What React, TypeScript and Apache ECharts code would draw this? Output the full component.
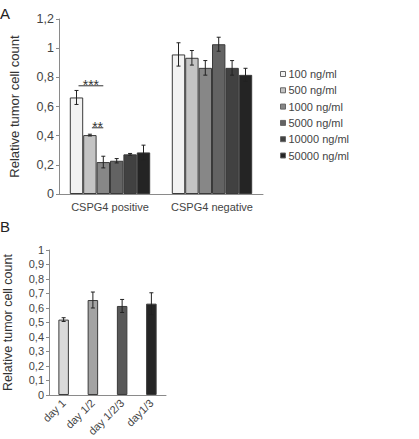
import React, { useEffect, useRef } from "react";
import * as echarts from "echarts";

const groupsA = ["CSPG4 positive", "CSPG4 negative"];
const dosesA = ["100 ng/ml", "500 ng/ml", "1000 ng/ml", "5000 ng/ml", "10000 ng/ml", "50000 ng/ml"];
const colorsA = ["#f2f2f2", "#c4c4c4", "#878787", "#636363", "#414141", "#242424"];
// values per dose: [positive, negative]
const valuesA = [
  [0.662, 0.957],
  [0.404, 0.934],
  [0.219, 0.865],
  [0.228, 1.027],
  [0.272, 0.865],
  [0.285, 0.817],
];
const errorsA = [
  [0.048, 0.08],
  [0.006, 0.05],
  [0.04, 0.05],
  [0.015, 0.048],
  [0.006, 0.05],
  [0.05, 0.045],
];
const sigFrom = [0, 1];
const sigTo = [2, 2];
const sigY = [0.742, 0.454];
const sigLabel = ["***", "**"];

const daysB = ["day 1", "day 1/2", "day 1/2/3", "day1/3"];
const valuesB = [0.52, 0.655, 0.614, 0.63];
const errorsB = [0.013, 0.055, 0.045, 0.075];
const colorsB = ["#dadada", "#a3a3a3", "#585858", "#252525"];

const FONT = "Liberation Sans, Arial, sans-serif";
const BW_A = 13.4;
const BW_B = 10.5;

const fmt = (v: number) => String(Math.round(v * 10) / 10).replace(".", ",");

export default function App() {
  const ref = useRef<HTMLDivElement>(null);
  useEffect(() => {
    if (!ref.current) return;
    const chart = echarts.init(ref.current, undefined, { renderer: "svg" });
    const axisLine = { lineStyle: { color: "#8a8a8a", width: 1 } };
    const axisTick = { lineStyle: { color: "#8a8a8a" }, length: 3 };
    const errBar = (x: number, yt: number, yb: number) => {
      const st = { stroke: "#222", lineWidth: 1, fill: "none" };
      return {
        type: "group",
        children: [
          { type: "line", shape: { x1: x, y1: yt, x2: x, y2: yb }, style: st },
          { type: "line", shape: { x1: x - 2, y1: yt, x2: x + 2, y2: yt }, style: st },
          { type: "line", shape: { x1: x - 2, y1: yb, x2: x + 2, y2: yb }, style: st },
        ],
      };
    };
    const barSeriesA = dosesA.map((name, i) => ({
      name,
      type: "bar",
      xAxisIndex: 0,
      yAxisIndex: 0,
      barWidth: BW_A,
      barGap: "0%",
      itemStyle: { color: colorsA[i], borderColor: "#3a3a3a", borderWidth: 1 },
      data: valuesA[i],
    }));
    const errSeriesA = dosesA.map((name, i) => ({
      type: "custom",
      xAxisIndex: 0,
      yAxisIndex: 0,
      silent: true,
      z: 5,
      itemStyle: { color: "#222" },
      data: valuesA[i].map((v, c) => [c, v, errorsA[i][c]]),
      renderItem: (params: any, api: any) => {
        const c = api.value(0);
        const v = api.value(1);
        const e = api.value(2);
        const t = api.coord([c, v + e]);
        const b = api.coord([c, v - e]);
        return errBar(t[0] + (i - 2.5) * BW_A, t[1], b[1]);
      },
    }));
    const sigSeries = {
      type: "custom",
      xAxisIndex: 0,
      yAxisIndex: 0,
      silent: true,
      z: 6,
      itemStyle: { color: "#333" },
      data: sigY.map((y) => [0, y]),
      renderItem: (params: any, api: any) => {
        const idx = params.dataIndex;
        const p = api.coord([api.value(0), api.value(1)]);
        const x1 = p[0] + (sigFrom[idx] - 2.5) * BW_A + 2;
        const x2 = p[0] + (sigTo[idx] - 2.5) * BW_A;
        return {
          type: "group",
          children: [
            { type: "line", shape: { x1, y1: p[1], x2, y2: p[1] }, style: { stroke: "#333", lineWidth: 1 } },
            {
              type: "text",
              x: (x1 + x2) / 2,
              y: p[1] - 1,
              style: {
                text: sigLabel[idx],
                fill: "#333",
                stroke: "transparent",
                lineWidth: 0,
                font: "14px " + FONT,
                textAlign: "center",
                textVerticalAlign: "middle",
              },
            },
          ],
        };
      },
    };
    const barB = {
      type: "bar",
      xAxisIndex: 1,
      yAxisIndex: 1,
      barWidth: BW_B,
      data: valuesB.map((v, i) => ({
        value: v,
        itemStyle: { color: colorsB[i], borderColor: "#3a3a3a", borderWidth: 1 },
      })),
    };
    const errB = {
      type: "custom",
      xAxisIndex: 1,
      yAxisIndex: 1,
      silent: true,
      z: 5,
      itemStyle: { color: "#222" },
      data: valuesB.map((v, c) => [c, v, errorsB[c]]),
      renderItem: (params: any, api: any) => {
        const c = api.value(0);
        const v = api.value(1);
        const e = api.value(2);
        const t = api.coord([c, v + e]);
        const b = api.coord([c, v - e]);
        return errBar(t[0], t[1], b[1]);
      },
    };
    chart.setOption({
      animation: false,
      backgroundColor: "#ffffff",
      textStyle: { fontFamily: FONT },
      grid: [
        { left: 49, top: 19, width: 214, height: 175 },
        { left: 46, top: 250, width: 120, height: 150 },
      ],
      legend: {
        orient: "vertical",
        left: 275,
        top: 63,
        icon: "rect",
        itemWidth: 5,
        itemHeight: 5,
        itemGap: 4.3,
        data: dosesA,
        itemStyle: { borderColor: "#666", borderWidth: 1 },
        textStyle: { fontSize: 11, color: "#444", fontFamily: FONT, lineHeight: 12, padding: [0, 0, 0, -2] },
      },
      xAxis: [
        {
          type: "category",
          gridIndex: 0,
          data: groupsA,
          axisLine,
          axisTick,
          axisLabel: { fontSize: 11, color: "#444", margin: 7, interval: 0, hideOverlap: false },
        },
        {
          type: "category",
          gridIndex: 1,
          data: daysB,
          axisLine,
          axisTick,
          axisLabel: { fontSize: 11, color: "#444", rotate: 45, margin: 6, interval: 0 },
        },
      ],
      yAxis: [
        {
          type: "value",
          gridIndex: 0,
          min: 0,
          max: 1.2,
          interval: 0.2,
          splitLine: { show: false },
          axisLine: { show: true, ...axisLine },
          axisTick: { show: true, ...axisTick },
          axisLabel: { fontSize: 12.5, color: "#444", margin: 5, formatter: fmt },
          name: "Relative tumor cell count",
          nameLocation: "middle",
          nameGap: 38,
          nameTextStyle: { fontSize: 13, color: "#333" },
        },
        {
          type: "value",
          gridIndex: 1,
          min: 0,
          max: 1,
          interval: 0.1,
          splitLine: { show: false },
          axisLine: { show: true, ...axisLine },
          axisTick: { show: true, ...axisTick },
          axisLabel: { fontSize: 11, color: "#444", margin: 5, formatter: fmt },
          name: "Relative tumor cell count",
          nameLocation: "middle",
          nameGap: 35,
          nameTextStyle: { fontSize: 12.5, color: "#333" },
        },
      ],
      graphic: [
        { type: "text", left: 0, top: 6, style: { text: "A", font: "15px " + FONT, fill: "#222" } },
        { type: "text", left: 0, top: 219, style: { text: "B", font: "15px " + FONT, fill: "#222" } },
      ],
      series: [...barSeriesA, ...errSeriesA, sigSeries, barB, errB],
    });
    return () => chart.dispose();
  }, []);
  return <div ref={ref} style={{ position: "fixed", left: 0, top: 0, width: 419, height: 439, background: "#fff" }} />;
}
